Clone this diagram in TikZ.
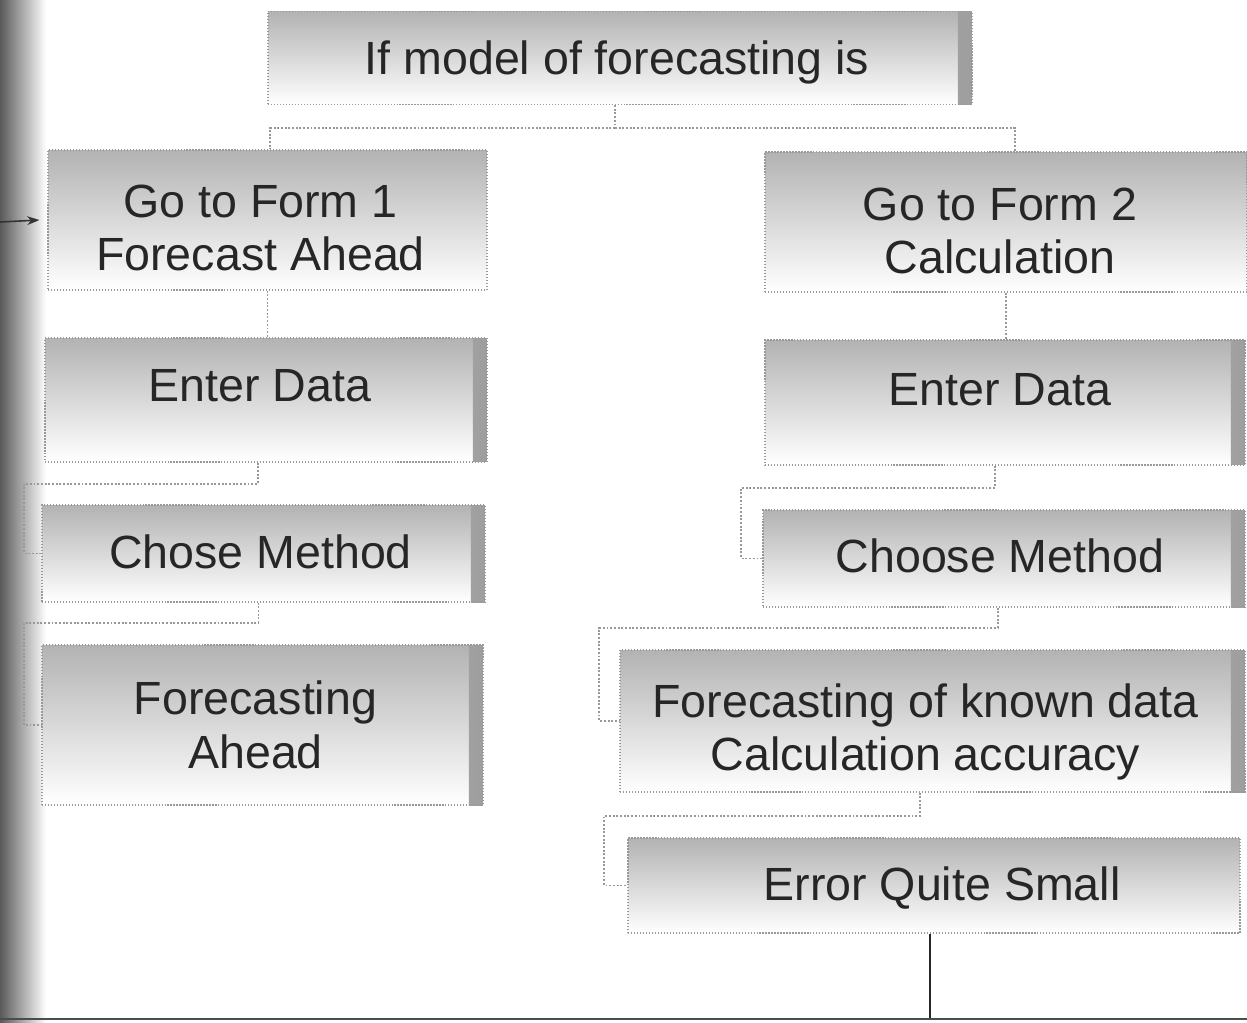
\documentclass[tikz,border=0pt]{standalone}
\usepackage{fontspec}
\setmainfont{Liberation Sans}
\usetikzlibrary{arrows.meta,calc}
\tikzset{
  box/.style={draw=black!40, densely dotted, line width=0.7pt,
    top color=black!30, bottom color=white, middle color=black!15,
    inner sep=0pt},
  lbl/.style={align=center, text=black!85, inner sep=0pt,
    font=\fontsize{26.5}{30.6}\selectfont},
  edge3d/.style={path picture={\shade[left color=black!8, right color=black!38]
      ([xshift=-0.28cm]path picture bounding box.north east)
      rectangle (path picture bounding box.south east);}},
  conn/.style={draw=black!40, densely dotted, line width=1.1pt},
  solidconn/.style={draw=black!85, line width=1pt}
}
\begin{document}
\begin{tikzpicture}[x=0.02cm,y=-0.02cm]
\useasboundingbox (0,0) rectangle (1247,1022);
\fill[white] (0,0) rectangle (1247,1022);
% left scan band
\shade[left color=black!65, right color=white] (0,0) rectangle (46,1022);

\node[box, edge3d, minimum width=14.08cm, minimum height=1.86cm,
  label={[lbl, xshift=-0.06cm, yshift=-0.08cm]center:If model of forecasting is}] (top) at (620,58) {};

\node[box, minimum width=8.78cm, minimum height=2.8cm,
  label={[lbl, xshift=-0.14cm, yshift=-0.16cm]center:Go to Form 1\\Forecast Ahead}] (f1) at (267.5,220) {};
\node[box, minimum width=9.64cm, minimum height=2.8cm,
  label={[lbl, xshift=-0.12cm, yshift=-0.18cm]center:Go to Form 2\\Calculation}] (f2) at (1006,222) {};

\node[box, edge3d, minimum width=8.84cm, minimum height=2.48cm,
  label={[lbl, xshift=-0.12cm, yshift=0.28cm]center:Enter Data}] (e1) at (266,400) {};
\node[box, edge3d, minimum width=9.6cm, minimum height=2.5cm,
  label={[lbl, xshift=-0.1cm, yshift=0.26cm]center:Enter Data}] (e2) at (1005,402.5) {};

\node[box, edge3d, minimum width=8.86cm, minimum height=1.94cm,
  label={[lbl, xshift=-0.06cm, yshift=0.04cm]center:Chose Method}] (c1) at (263.5,553.5) {};
\node[box, edge3d, minimum width=9.64cm, minimum height=1.94cm,
  label={[lbl, xshift=-0.08cm, yshift=0.06cm]center:Choose Method}] (c2) at (1004,558.5) {};

\node[box, edge3d, minimum width=8.82cm, minimum height=3.2cm,
  label={[lbl, xshift=-0.14cm, yshift=0cm]center:Forecasting\\Ahead}] (a1) at (262.5,725) {};
\node[box, edge3d, minimum width=12.5cm, minimum height=2.84cm,
  label={[lbl, xshift=-0.14cm, yshift=-0.22cm]center:Forecasting of known data\\Calculation accuracy}] (k2) at (932.5,721) {};

\node[box, minimum width=12.24cm, minimum height=1.9cm,
  label={[lbl, xshift=0.16cm, yshift=-0.06cm]center:Error Quite Small}] (s2) at (934,885.5) {};

% connectors
\draw[conn] ([xshift=-0.1cm]top.south) -- ++(0,23) coordinate (j);
\draw[conn] (j) -| ([xshift=0.05cm]f1.north);
\draw[conn] (j) -| ([xshift=0.18cm]f2.north);
\draw[conn] (f1.south) -- (f1.south |- e1.north);
\draw[conn] (f2.south) -- (f2.south |- e2.north);
\draw[conn] ([xshift=-0.16cm]e1.south) -- ++(0,21) -| ([xshift=-0.34cm]c1.west) -- (c1.west);
\draw[conn] ([xshift=-0.1cm]c1.south) -- ++(0,20) -| ([xshift=-0.34cm]a1.west) -- (a1.west);
\draw[conn] ([xshift=-0.2cm]e2.south) -- ++(0,22) -| ([xshift=-0.42cm]c2.west) -- (c2.west);
\draw[conn] ([xshift=-0.12cm]c2.south) -- ++(0,20) -| ([xshift=-0.4cm]k2.west) -- (k2.west);
\draw[conn] ([xshift=-0.25cm]k2.south) -- ++(0,23) -| ([xshift=-0.46cm]s2.west) -- (s2.west);

\coordinate (bot) at (930,1018);
\draw[solidconn] ([xshift=-0.08cm]s2.south) -- ([xshift=-0.08cm]s2.south |- bot);
\draw[draw=black!70, line width=1pt] (0,1019) -- (1247,1019);

% left arrow
\coordinate (arrS) at (0,222);
\draw[black!80, line width=0.9pt, -{Stealth[length=7pt,width=5pt]}] (arrS) -- ([xshift=-0.16cm]f1.west);
\end{tikzpicture}
\end{document}
